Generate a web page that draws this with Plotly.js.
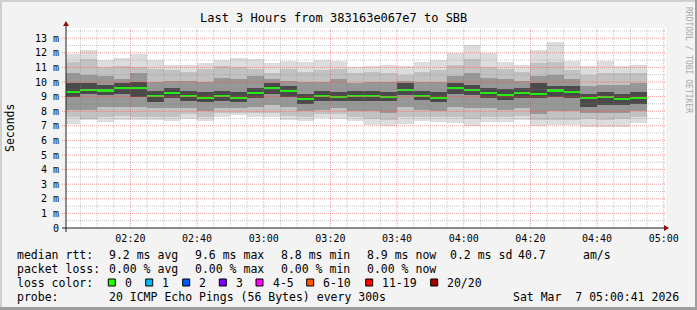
<!DOCTYPE html>
<html>
<head>
<meta charset="utf-8">
<script src="https://cdn.plot.ly/plotly-3.0.1.min.js"></script>
<style>html,body{margin:0;padding:0;background:#f3f3f3;}#chart{width:697px;height:310px;}</style>
</head>
<body>
<div id="chart"></div>
<script>
// ---- data (ms) ----
const day = '2026-03-07 ';
const times = ['02:00','02:05','02:10','02:15','02:20','02:25','02:30','02:35','02:40','02:45','02:50','02:55',
               '03:00','03:05','03:10','03:15','03:20','03:25','03:30','03:35','03:40','03:45','03:50','03:55',
               '04:00','04:05','04:10','04:15','04:20','04:25','04:30','04:35','04:40','04:45','04:50'];
const medianRtt = [9.34,9.47,9.42,9.56,9.56,9.06,9.27,9.06,8.92,9.06,8.92,9.27,9.56,9.36,8.86,9.06,8.99,9.06,9.06,8.99,9.47,9.06,8.92,9.56,9.47,9.27,9.13,9.27,9.20,9.42,9.34,8.92,8.99,8.81,8.92];
const pingMax = [11.9,12.2,11.5,11.64,11.9,11.53,11.18,11.18,11.3,11.53,11.64,11.57,11.3,11.41,11.34,11.48,11.41,11.02,11.11,11.18,11.11,11.34,11.53,12.0,12.55,11.98,11.34,11.18,12.21,12.71,11.41,11.07,11.41,11.11,11.18];
const pingHi2 = [11.35,11.6,11.0,11.1,11.0,10.9,10.8,10.7,10.9,11.1,11.0,10.9,10.6,10.9,10.7,10.8,10.9,10.6,10.7,10.6,10.5,10.7,10.8,11.2,11.6,11.0,10.9,10.7,11.3,11.4,10.8,10.5,10.6,10.6,10.6];
const pingHi3 = [10.6,10.5,10.4,10.2,10.6,10.0,10.1,10.1,10.0,10.3,10.2,10.4,10.2,10.1,10.0,10.0,10.2,9.9,10.0,10.0,10.1,10.0,10.0,10.4,10.6,10.3,10.2,10.1,10.4,10.5,10.2,9.7,9.8,9.8,9.9];
const pingHi4 = [9.9,9.9,9.8,9.9,10.0,9.4,9.6,9.4,9.3,9.4,9.3,9.6,9.9,9.7,9.2,9.4,9.3,9.4,9.4,9.3,9.9,9.4,9.3,9.9,9.8,9.6,9.5,9.6,9.9,9.7,9.7,9.2,9.3,9.2,9.3];
const pingLo4 = [9.0,9.2,9.1,9.2,9.0,8.6,8.9,8.7,8.6,8.7,8.6,8.9,9.2,9.0,8.5,8.7,8.7,8.7,8.7,8.7,9.1,8.8,8.6,9.2,9.1,8.9,8.8,8.9,8.9,9.0,8.9,8.3,8.4,8.4,8.5];
const pingLo3 = [8.1,8.1,8.3,8.3,8.3,8.2,8.2,8.2,8.0,8.2,8.2,8.3,8.4,8.3,8.0,8.1,8.2,8.0,8.0,7.9,8.3,8.1,8.0,8.3,8.2,8.2,8.1,8.2,7.8,8.0,8.0,7.9,7.9,7.9,8.0];
const pingLo2 = [7.6,7.5,7.6,7.7,7.6,7.6,7.6,7.8,7.6,7.9,7.9,7.9,7.9,7.7,7.6,7.8,7.8,7.6,7.5,7.4,7.6,7.6,7.6,7.6,7.5,7.6,7.6,7.7,7.4,7.4,7.4,7.5,7.4,7.5,7.6];
const pingMin = [7.14,7.42,7.23,7.37,7.37,7.37,7.3,7.46,7.3,7.6,7.71,7.6,7.6,7.37,7.3,7.53,7.46,7.3,7.07,7.0,7.14,7.3,7.23,7.2,7.0,7.23,7.23,7.37,7.0,7.07,7.07,6.92,6.92,6.92,7.19];
const yTicks = [0,1,2,3,4,5,6,7,8,9,10,11,12,13];
const yTickText = ['0','1 m','2 m','3 m','4 m','5 m','6 m','7 m','8 m','9 m','10 m','11 m','12 m','13 m'];
const lossColors = ['#26ff00','#00b8ff','#0059ff','#7e00ff','#ff00ff','#ff5500','#ff0000','#a00000'];
const lossLabels = ['0','1','2','3','4-5','6-10','11-19','20/20'];

// ---- geometry helpers (pixel -> paper) ----
const W = 697, H = 310, L = 66, R = 666, T = 28, B = 228;
const px = v => (v - L) / (R - L);
const py = v => (B - v) / (B - T);
const nb = s => s.replace(/ /g, '\u00a0');
const MONO = 'DejaVu Sans Mono';

const xs = times.map(t => day + t);
const STEP = 300000;

function band(lo, hi, color) {
  return {type: 'bar', x: xs, base: lo, y: hi.map((h, i) => h - lo[i]),
    offset: 0, width: STEP, marker: {color: color, line: {width: 0}},
    hoverinfo: 'skip', showlegend: false};
}
const traces = [
  band(pingMin, pingMax, '#dddddd'),
  band(pingLo2, pingHi2, '#c2c2c2'),
  band(pingLo3, pingHi3, '#979797'),
  band(pingLo4, pingHi4, '#4a4a4a'),
  {type: 'bar', x: xs, base: medianRtt.map(m => m - 0.07), y: medianRtt.map(() => 0.14),
   offset: 0, width: STEP, marker: {color: '#22ee11', line: {width: 0}}, hoverinfo: 'skip', showlegend: false}
];

const shapes = [];
// frame
shapes.push({type:'rect', xref:'paper', yref:'paper', x0:px(0), x1:px(W), y0:py(H), y1:py(0), line:{width:0}, fillcolor:'#f3f3f3', layer:'below'});
shapes.push({type:'rect', xref:'paper', yref:'paper', x0:px(0), x1:px(2), y0:py(H), y1:py(0), line:{width:0}, fillcolor:'#cfcfcf', layer:'below'});
shapes.push({type:'rect', xref:'paper', yref:'paper', x0:px(0), x1:px(W), y0:py(2), y1:py(0), line:{width:0}, fillcolor:'#cfcfcf', layer:'below'});
shapes.push({type:'rect', xref:'paper', yref:'paper', x0:px(W-2), x1:px(W), y0:py(H), y1:py(0), line:{width:0}, fillcolor:'#9e9e9e', layer:'below'});
shapes.push({type:'rect', xref:'paper', yref:'paper', x0:px(0), x1:px(W), y0:py(H), y1:py(H-3), line:{width:0}, fillcolor:'#9e9e9e', layer:'below'});
shapes.push({type:'rect', xref:'paper', yref:'paper', x0:0, x1:1, y0:0, y1:1, line:{width:0}, fillcolor:'#ffffff', layer:'below'});

// grid (drawn above the smoke, like rrdtool)
for (let k = 1; k <= 27; k++) {
  const v = k / 2, major = (k % 2 === 0);
  shapes.push({type:'line', xref:'paper', yref:'y', x0: major ? px(62) : 0, x1: 1, y0: v, y1: v,
    line:{color: major ? 'rgba(222,80,80,0.55)' : 'rgba(130,130,130,0.45)', width:1, dash:'1px,1px'}, layer:'above'});
}
const t0 = new Date('2026-03-07T02:05:00Z').getTime();
for (let k = 0; k < 36; k++) {
  const t = t0 + k * STEP;
  const d = new Date(t).toISOString().replace('T',' ').slice(0,19);
  const major = (((t / 60000) % 20) === 0);
  shapes.push({type:'line', xref:'x', yref:'paper', x0: d, x1: d, y0: 0, y1: 1,
    line:{color: major ? 'rgba(222,80,80,0.55)' : 'rgba(130,130,130,0.45)', width:1, dash:'1px,1px'}, layer:'above'});
}
// axes with arrows
shapes.push({type:'line', xref:'paper', yref:'paper', x0:px(62), x1:px(667), y0:0, y1:0, line:{color:'#202020', width:1}, layer:'above'});
shapes.push({type:'line', xref:'paper', yref:'paper', x0:0, x1:0, y0:py(232), y1:py(24), line:{color:'#202020', width:1}, layer:'above'});
shapes.push({type:'path', xref:'paper', yref:'paper',
  path:`M ${px(664)} ${py(225)} L ${px(669)} ${py(228)} L ${px(664)} ${py(231)} Z`, fillcolor:'#8b1010', line:{width:0}, layer:'above'});
shapes.push({type:'path', xref:'paper', yref:'paper',
  path:`M ${px(63)} ${py(26)} L ${px(66)} ${py(21)} L ${px(69)} ${py(26)} Z`, fillcolor:'#8b1010', line:{width:0}, layer:'above'});

const annotations = [];
function txt(s, x, y, opts) {
  annotations.push(Object.assign({xref:'paper', yref:'paper', x: px(x), y: py(y), text: nb(s), showarrow:false,
    xanchor:'left', yanchor:'middle', font:{family: MONO, size:11.5, color:'#000'}}, opts || {}));
}
txt('Last 3 Hours from 383163e067e7 to SBB', 333.5, 18, {xanchor:'center', font:{family: MONO, size:12, color:'#000'}});
txt('Seconds', 10, 128, {xanchor:'center', textangle:-90});
txt('RRDTOOL / TOBI OETIKER', 689, 60, {xanchor:'center', textangle:90, font:{family: MONO, size:8, color:'#a8a8a8'}});

// legend lines
txt('median rtt:', 15, 254.5);
txt('9.2 ms avg', 106.5, 254.5); txt('9.6 ms max', 192.5, 254.5); txt('8.8 ms min', 278.5, 254.5);
txt('8.9 ms now', 364.5, 254.5); txt('0.2 ms sd', 448, 254.5); txt('40.7', 516, 254.5); txt('am/s', 581, 254.5);
txt('packet loss:', 15, 268.5);
txt('0.00 % avg', 106.5, 268.5); txt('0.00 % max', 192.5, 268.5); txt('0.00 % min', 278.5, 268.5); txt('0.00 % now', 364.5, 268.5);
txt('loss color:', 15, 282.5);
const boxX = [108.3, 145.7, 182.7, 219.3, 256, 306.7, 365.7, 430.7];
lossLabels.forEach((lab, i) => {
  shapes.push({type:'rect', xref:'paper', yref:'paper', x0: px(boxX[i]), x1: px(boxX[i] + 7), y0: py(286), y1: py(279),
    fillcolor: lossColors[i], line:{color:'#000', width:1}, layer:'above'});
  txt(lab, boxX[i] + 14.5, 282.5);
});
txt('probe:', 15, 296.5);
txt('20 ICMP Echo Pings (56 Bytes) every 300s', 106.5, 296.5);
txt('Sat Mar  7 05:00:41 2026', 681, 296.5, {xanchor:'right'});

const layout = {
  width: W, height: H,
  margin: {l: L, r: W - R, t: T, b: H - B, pad: 0},
  paper_bgcolor: '#f3f3f3', plot_bgcolor: '#ffffff',
  barmode: 'overlay', bargap: 0, showlegend: false,
  xaxis: {type:'date', range:[day + '02:00:41', day + '05:00:41'], showgrid:false, zeroline:false, showline:false,
    tick0: day + '00:00', dtick: 1200000, tickformat:'%H:%M', ticks:'outside', ticklen:1, tickcolor:'rgba(0,0,0,0)',
    tickfont:{family: MONO, size:10, color:'#000'}, fixedrange:true},
  yaxis: {range:[0, 13.7], tickvals: yTicks, ticktext: yTickText, showgrid:false, zeroline:false, showline:false,
    ticks:'outside', ticklen:4, tickcolor:'rgba(0,0,0,0)', tickfont:{family: MONO, size:10, color:'#000'}, fixedrange:true},
  shapes: shapes, annotations: annotations
};
Plotly.newPlot('chart', traces, layout, {staticPlot: true, displayModeBar: false});
</script>
</body>
</html>
